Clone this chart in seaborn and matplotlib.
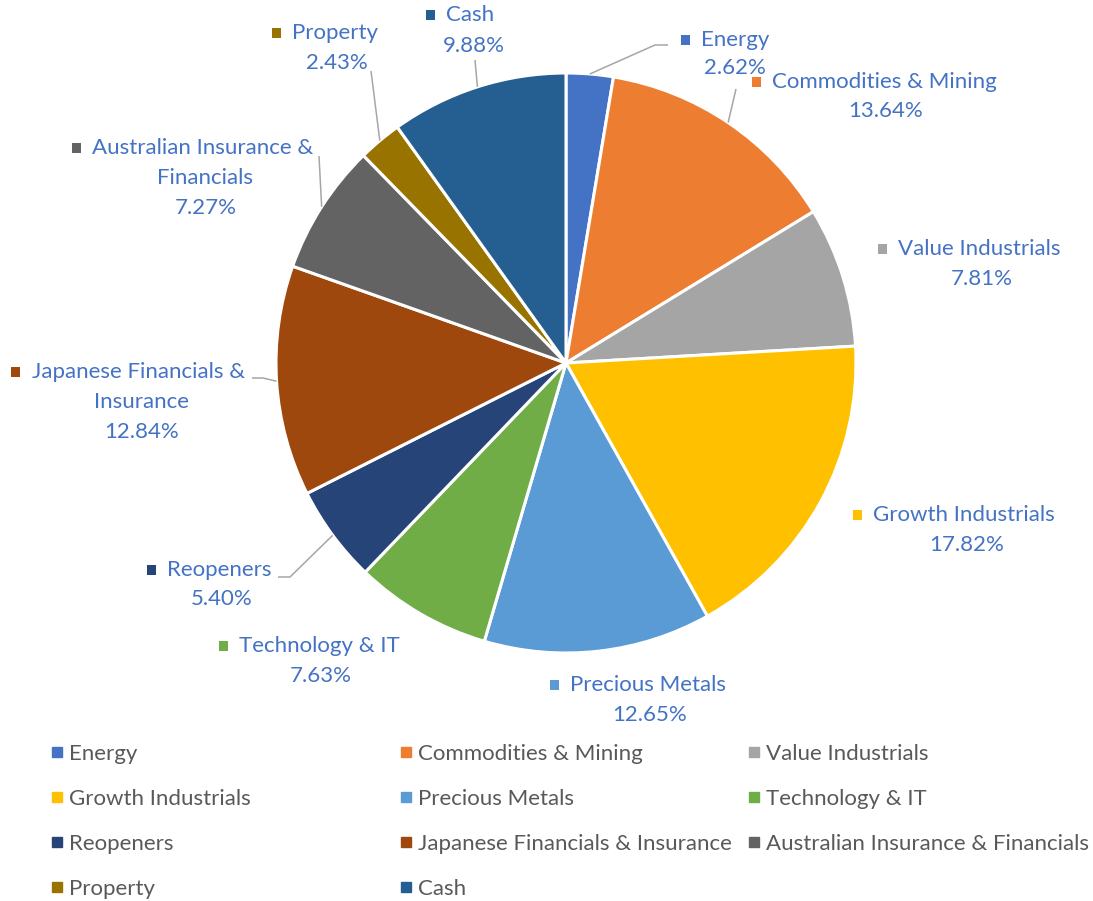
import numpy as np
import matplotlib
matplotlib.use("Agg")
import matplotlib.pyplot as plt
import seaborn as sns
from matplotlib.lines import Line2D
from matplotlib.patches import Rectangle
from matplotlib.offsetbox import AnnotationBbox, DrawingArea, HPacker, TextArea

# Portfolio sector weights (%)
sectors = ["Energy", "Commodities & Mining", "Value Industrials", "Growth Industrials",
           "Precious Metals", "Technology & IT", "Reopeners",
           "Japanese Financials & Insurance", "Australian Insurance & Financials",
           "Property", "Cash"]
weights = [2.62, 13.64, 7.81, 17.82, 12.65, 7.63, 5.40, 12.84, 7.27, 2.43, 9.88]
palette = ["#4472C4", "#ED7D31", "#A5A5A5", "#FFC000", "#5B9BD5", "#70AD47",
           "#264478", "#9E480E", "#636363", "#997300", "#255E91"]

# label text split into lines (first line carries the colour key)
label_lines = {
    "Japanese Financials & Insurance": ["Japanese Financials &", "Insurance"],
    "Australian Insurance & Financials": ["Australian Insurance &", "Financials"],
}

W, H = 1093, 901
CX, CY, R = 566, 363, 290   # pie centre / radius in pixels
LABEL_COLOR = "#4472C4"
LEADER_COLOR = "#A6A6A6"


def px(x, y):
    """pixel position -> data coords (pie radius = 1)"""
    return (x - CX) / R, (CY - y) / R


# label layout in pixels: head line centre, following line centres, leader elbows
layout = {
    "Energy": dict(head=(725, 40), rest=[(735, 68)], leader=[(655, 45), (668, 45)]),
    "Commodities & Mining": dict(head=(874, 82), rest=[(886, 111)], leader=[(736, 89)]),
    "Value Industrials": dict(head=(969, 249), rest=[(982, 279)]),
    "Growth Industrials": dict(head=(954, 515), rest=[(967, 545)]),
    "Precious Metals": dict(head=(638, 685), rest=[(650, 715)]),
    "Technology & IT": dict(head=(309, 646), rest=[(321, 676)]),
    "Reopeners": dict(head=(209, 570), rest=[(222, 599)], leader=[(290, 577), (278, 577)]),
    "Japanese Financials & Insurance": dict(head=(128, 372), rest=[(142, 402), (142, 432)],
                                            leader=[(263, 378), (252, 378)]),
    "Australian Insurance & Financials": dict(head=(193, 148), rest=[(205, 178), (206, 208)],
                                              leader=[(319, 156)]),
    "Property": dict(head=(325, 33), rest=[(337, 63)], leader=[(371, 71)]),
    "Cash": dict(head=(460, 15), rest=[(474, 46)], leader=[(475, 60)]),
}

sns.set_theme(style="white")
plt.rcParams["font.family"] = ["Lato", "DejaVu Sans"]

fig = plt.figure(figsize=(W / 100, H / 100), dpi=100)
ax = fig.add_axes([0, 0, 1, 1])

wedges, _ = ax.pie(weights, colors=palette, startangle=90, counterclock=False, radius=1,
                   wedgeprops=dict(edgecolor="white", linewidth=2.2))
ax.set_xlim(-CX / R, (W - CX) / R)
ax.set_ylim(-(H - CY) / R, CY / R)
ax.set_aspect("auto")
ax.axis("off")

FS = 16
for name, w, wedge, col in zip(sectors, weights, wedges, palette):
    lay = layout[name]
    lines = label_lines.get(name, [name]) + [f"{w:.2f}%"]

    # head line: colour key square + name
    da = DrawingArea(6.5, 6.5, 0, 0)
    da.add_artist(Rectangle((0, 0), 6.5, 6.5, facecolor=col, edgecolor="none"))
    ta = TextArea(lines[0], textprops=dict(color=LABEL_COLOR, fontsize=FS))
    box = HPacker(children=[da, ta], align="center", pad=0, sep=8)
    ab = AnnotationBbox(box, px(*lay["head"]), xycoords="data", frameon=False,
                        box_alignment=(0.5, 0.5), pad=0)
    ax.add_artist(ab)

    for txt, pos in zip(lines[1:], lay["rest"]):
        ax.text(*px(*pos), txt, color=LABEL_COLOR, fontsize=FS, ha="center", va="center")

    # leader line from the wedge's middle edge
    if "leader" in lay:
        mid = np.deg2rad((wedge.theta1 + wedge.theta2) / 2)
        xs = [np.cos(mid)] + [px(*p)[0] for p in lay["leader"]]
        ys = [np.sin(mid)] + [px(*p)[1] for p in lay["leader"]]
        ax.plot(xs, ys, color=LEADER_COLOR, lw=1.1, solid_capstyle="butt")

# legend: 3 fixed-width columns, filled row by row
col_x = [50, 399, 747]
for c, x0 in enumerate(col_x):
    idx = list(range(c, len(sectors), 3))
    handles = [Line2D([], [], marker="s", linestyle="", color=palette[i],
                      markersize=6.5) for i in idx]
    fig.legend(handles, [sectors[i] for i in idx], loc="upper left",
               bbox_to_anchor=(x0 / W, 1 - 744 / H), frameon=False,
               fontsize=FS, labelcolor="#595959", handlelength=0.6,
               handletextpad=0.25, labelspacing=1.12, borderpad=0, borderaxespad=0)

fig.savefig("out.png", dpi=100)
